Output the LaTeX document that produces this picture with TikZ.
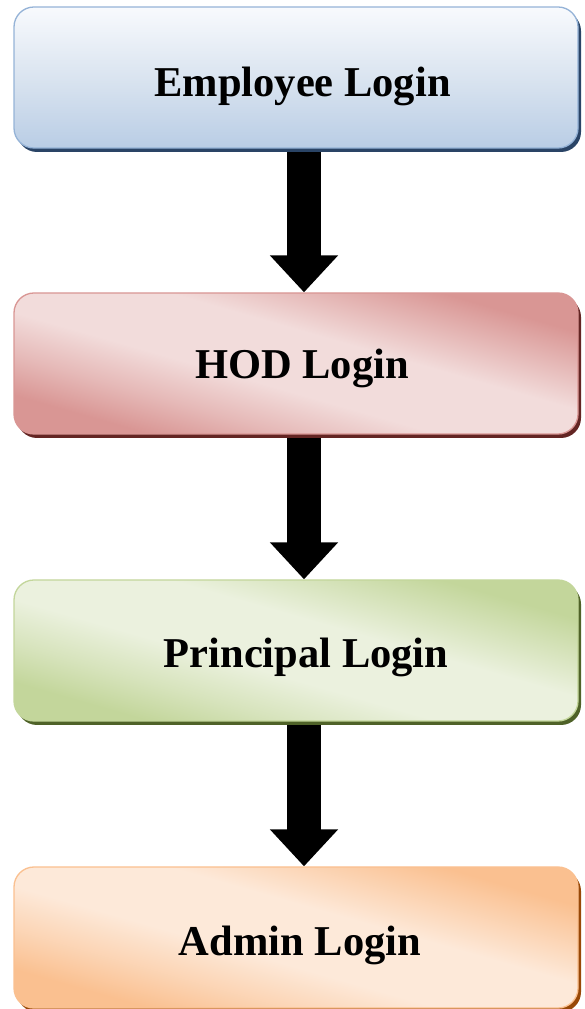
\documentclass[tikz,border=0pt]{standalone}
\usepackage{fontspec}
\setmainfont{Liberation Serif}
\usetikzlibrary{arrows.meta,shadows,calc,backgrounds}
\definecolor{empTop}{HTML}{F8FAFD}
\definecolor{empMid}{HTML}{DAE4F0}
\definecolor{empBot}{HTML}{B9CDE5}
\definecolor{empLine}{HTML}{95B3D7}
\definecolor{empShadow}{HTML}{2A4466}
\definecolor{hodDark}{HTML}{D99694}
\definecolor{hodLight}{HTML}{F2DCDB}
\definecolor{hodLine}{HTML}{D99694}
\definecolor{hodShadow}{HTML}{632523}
\definecolor{priDark}{HTML}{C3D69B}
\definecolor{priLight}{HTML}{EBF1DE}
\definecolor{priLine}{HTML}{C3D69B}
\definecolor{priShadow}{HTML}{4F6228}
\definecolor{admDark}{HTML}{FAC090}
\definecolor{admLight}{HTML}{FDE9D9}
\definecolor{admLine}{HTML}{FAC090}
\definecolor{admShadow}{HTML}{984807}
\colorlet{hodMid}{hodDark!50!hodLight}
\colorlet{priMid}{priDark!50!priLight}
\colorlet{admMid}{admDark!50!admLight}
\pgfdeclareverticalshading{empShade}{100bp}{color(0bp)=(empBot); color(25bp)=(empBot); color(50bp)=(empMid); color(75bp)=(empTop); color(100bp)=(empTop)}
\pgfdeclareverticalshading{hodShade}{100bp}{color(0bp)=(hodDark); color(27bp)=(hodDark); color(35bp)=(hodMid); color(44bp)=(hodLight); color(57bp)=(hodLight); color(65bp)=(hodMid); color(73bp)=(hodDark); color(100bp)=(hodDark)}
\pgfdeclareverticalshading{priShade}{100bp}{color(0bp)=(priDark); color(27bp)=(priDark); color(35bp)=(priMid); color(44bp)=(priLight); color(57bp)=(priLight); color(65bp)=(priMid); color(73bp)=(priDark); color(100bp)=(priDark)}
\pgfdeclareverticalshading{admShade}{100bp}{color(0bp)=(admDark); color(27bp)=(admDark); color(35bp)=(admMid); color(44bp)=(admLight); color(57bp)=(admLight); color(65bp)=(admMid); color(73bp)=(admDark); color(100bp)=(admDark)}
\tikzset{
  loginbox/.style={rectangle, rounded corners=20pt, minimum width=564pt,
    minimum height=141pt, inner sep=0pt, line width=1.3pt},
  boxtext/.style={font=\bfseries\fontsize{42.5}{50}\selectfont, anchor=base, inner sep=0pt},
  bigarrow/.style={line width=34pt, -{Triangle[width=66pt,length=37pt]}},
}
\begin{document}
\begin{tikzpicture}[x=1pt,y=1pt]
\useasboundingbox (0,0) rectangle (584,1009);
\clip (0,0) rectangle (584,1009);
\node[loginbox, draw=empLine, shading=empShade,
  general shadow={fill=empShadow, shadow xshift=3pt, shadow yshift=-4pt}] (e) at (296,931.5) {};
\node[loginbox, draw=hodLine, shading=hodShade, shading angle=-16,
  general shadow={fill=hodShadow, shadow xshift=3pt, shadow yshift=-4pt}] (h) at (296,645.5) {};
\node[loginbox, draw=priLine, shading=priShade, shading angle=-16,
  general shadow={fill=priShadow, shadow xshift=3pt, shadow yshift=-4pt}] (p) at (296,358.5) {};
\node[loginbox, draw=admLine, shading=admShade, shading angle=-16,
  general shadow={fill=admShadow, shadow xshift=3pt, shadow yshift=-4pt}] (a) at (296,71.5) {};
\node[boxtext] (et) at ($(e.center)+(6.5,-19.5)$) {Employee Login};
\node[boxtext] (ht) at ($(h.center)+(6,-15.5)$) {HOD Login};
\node[boxtext] (pt) at ($(p.center)+(10,-17.5)$) {Principal Login};
\node[boxtext] (at) at ($(a.center)+(4,-18.5)$) {Admin Login};
\begin{scope}[on background layer]
\draw[bigarrow] ($(e.south)+(8,0)$) -- ($(h.north)+(8,0)$);
\draw[bigarrow] ($(h.south)+(8,0)$) -- ($(p.north)+(8,0)$);
\draw[bigarrow] ($(p.south)+(8,0)$) -- ($(a.north)+(8,0)$);
\end{scope}
\end{tikzpicture}
\end{document}
